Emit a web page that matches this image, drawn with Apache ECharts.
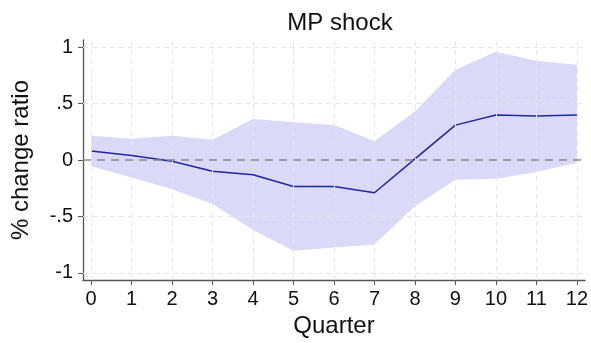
<!DOCTYPE html>
<html>
<head>
    <meta charset="utf-8">
    <title>MP shock</title>
    <script src="https://cdn.jsdelivr.net/npm/echarts@6/dist/echarts.min.js"></script>
</head>
<body style="margin:0;background:#fff;">
    <div id="main" style="width:591px;height:343px;"></div>
    <script type="text/javascript">
        // data
        var quarters = [0, 1, 2, 3, 4, 5, 6, 7, 8, 9, 10, 11, 12];
        var irf   = [0.08, 0.04, -0.01, -0.10, -0.13, -0.235, -0.235, -0.29, 0.01, 0.31, 0.40, 0.39, 0.40];
        var upper = [0.215, 0.19, 0.215, 0.18, 0.365, 0.335, 0.31, 0.17, 0.43, 0.80, 0.96, 0.88, 0.845];
        var lower = [-0.055, -0.155, -0.26, -0.39, -0.62, -0.805, -0.775, -0.75, -0.41, -0.175, -0.165, -0.105, -0.025];
        var yTicks = [-1, -0.5, 0, 0.5, 1];
        var yGrid = [-1, -0.5, 0.5, 1];

        var myChart = echarts.init(document.getElementById('main'));

        function pairs(arr) {
            return arr.map(function (v, i) { return [quarters[i], v]; });
        }

        var gridLines = [];
        quarters.forEach(function (q) { gridLines.push({ xAxis: q }); });
        yGrid.forEach(function (v) { gridLines.push({ yAxis: v }); });

        var font = 'Liberation Sans, Arial, sans-serif';

        // confidence band as one polygon: upper edge left to right, lower edge back
        function renderBand(params, api) {
            if (params.dataIndex !== 0) return;
            var pts = [];
            for (var i = 0; i < quarters.length; i++) pts.push(api.coord([quarters[i], upper[i]]));
            for (var j = quarters.length - 1; j >= 0; j--) pts.push(api.coord([quarters[j], lower[j]]));
            return {
                type: 'polygon',
                shape: { points: pts },
                style: { fill: '#dadaf8' }
            };
        }

        var option = {
            animation: false,
            title: {
                text: 'MP shock',
                left: 335,
                top: 6,
                textAlign: 'center',
                textStyle: { fontFamily: font, fontSize: 24, fontWeight: 'normal', color: '#111' }
            },
            grid: { left: 83, right: 4, top: 40, bottom: 59 },
            xAxis: {
                type: 'value',
                min: -0.2,
                max: 12.2,
                name: 'Quarter',
                nameLocation: 'middle',
                nameGap: 30,
                nameTextStyle: { fontFamily: font, fontSize: 24, color: '#111' },
                axisLine: { show: true, onZero: false, lineStyle: { color: '#555', width: 1.3 } },
                axisTick: { show: true, length: 5, customValues: quarters, lineStyle: { color: '#555' } },
                axisLabel: {
                    customValues: quarters,
                    margin: 9,
                    fontFamily: font, fontSize: 20, color: '#111'
                },
                splitLine: { show: false }
            },
            yAxis: {
                type: 'value',
                min: -1.065,
                max: 1.065,
                name: '% change ratio',
                nameLocation: 'middle',
                nameGap: 50,
                nameTextStyle: { fontFamily: font, fontSize: 24, color: '#111' },
                axisLine: { show: true, onZero: false, lineStyle: { color: '#555', width: 1.3 } },
                axisTick: { show: true, length: 5, customValues: yTicks, lineStyle: { color: '#555' } },
                axisLabel: {
                    customValues: yTicks,
                    margin: 10,
                    fontFamily: font, fontSize: 20, color: '#111',
                    formatter: function (v) {
                        if (v === 0) return '0';
                        return (v < 0 ? '-' : '') + String(Math.abs(v)).replace(/^0/, '');
                    }
                },
                splitLine: { show: false }
            },
            series: [
                {
                    name: 'grid',
                    type: 'line',
                    data: [],
                    z: 1,
                    markLine: {
                        silent: true,
                        symbol: 'none',
                        label: { show: false },
                        lineStyle: { color: '#e6e6e6', type: [5, 4], width: 1 },
                        data: gridLines
                    }
                },
                {
                    name: 'band',
                    type: 'custom',
                    renderItem: renderBand,
                    data: pairs(upper),
                    silent: true,
                    z: 2
                },
                {
                    name: 'irf',
                    type: 'line',
                    data: pairs(irf),
                    symbol: 'none',
                    lineStyle: { color: '#2323a6', width: 1.5 },
                    z: 3,
                    markLine: {
                        silent: true,
                        symbol: 'none',
                        label: { show: false },
                        lineStyle: { color: '#8a8a8a', type: [8, 6], width: 1.6 },
                        data: [{ yAxis: 0 }]
                    }
                }
            ]
        };
        myChart.setOption(option);
    </script>
</body>
</html>
